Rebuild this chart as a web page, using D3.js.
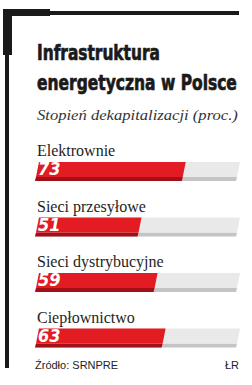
<!DOCTYPE html>
<html>
<head>
<meta charset="utf-8">
<script src="https://cdn.jsdelivr.net/npm/d3@7"></script>
<style>
  body { margin:0; background:#fff; }
  svg { display:block; }
</style>
</head>
<body>
<script>
var categories = ["Elektrownie", "Sieci przesyłowe", "Sieci dystrybucyjne", "Ciepłownictwo"];
var values = [73, 51, 59, 63];
var titleLines = ["Infrastruktura", "energetyczna w Polsce"];
var subtitle = "Stopień dekapitalizacji (proc.)";
var source = "Źródło: SRNPRE";
var author = "ŁR";

var W = 252, H = 385;
var svg = d3.select('body').append('svg')
  .attr('width', W).attr('height', H);

// frame
svg.append('rect').attr('x', 3).attr('y', 9).attr('width', 47).attr('height', 7).attr('fill', '#1a1a1a');
svg.append('rect').attr('x', 50).attr('y', 11).attr('width', 189).attr('height', 4).attr('fill', '#1a1a1a');
svg.append('rect').attr('x', 3).attr('y', 9).attr('width', 9).attr('height', 46).attr('fill', '#1a1a1a');
svg.append('rect').attr('x', 5).attr('y', 55).attr('width', 4).attr('height', 313).attr('fill', '#1a1a1a');

// squeeze a text horizontally to a target width
function fitWidth(sel, target, x0, y0) {
  sel.each(function(d, i) {
    var w = this.getComputedTextLength();
    var t = typeof target === 'function' ? target(d, i) : target;
    var yy = typeof y0 === 'function' ? y0(d, i) : y0;
    d3.select(this).attr('transform', 'translate(' + x0 + ',' + yy + ') scale(' + (t / w) + ',1)');
  });
}

// title
svg.selectAll('text.title').data(titleLines).enter().append('text')
  .attr('class', 'title')
  .style('font-family', '"Liberation Sans Narrow", "DejaVu Sans Condensed", sans-serif')
  .style('font-weight', 'bold')
  .style('font-size', '22px')
  .style('fill', '#1a1a1a')
  .style('stroke', '#1a1a1a')
  .style('stroke-width', '0.7px')
  .text(function(d) { return d; })
  .call(fitWidth, function(d, i) { return i ? 200 : 123; }, 37, function(d, i) { return 60 + i * 30; });

svg.append('text')
  .style('font-family', '"Liberation Serif", serif')
  .style('font-style', 'italic')
  .style('font-size', '15px')
  .style('fill', '#333')
  .text(subtitle)
  .call(fitWidth, 201, 37, 120);

var x = d3.scaleLinear().domain([0, 100]).range([36, 237]);
var y = d3.scaleBand().domain(categories).range([146, 368]).paddingInner(0).paddingOuter(0);

var sk = 3, hFace = 15, hDepth = 4;
function face(x0, x1, y0) {
  return 'M' + (x0 + sk) + ',' + y0 + 'L' + (x1 + sk) + ',' + y0 + 'L' + x1 + ',' + (y0 + hFace) + 'L' + x0 + ',' + (y0 + hFace) + 'Z';
}
function depth(x0, x1, y0) {
  var yb = y0 + hFace;
  return 'M' + x0 + ',' + yb + 'L' + x1 + ',' + yb + 'L' + (x1 - 1) + ',' + (yb + hDepth) + 'L' + (x0 - 1) + ',' + (yb + hDepth) + 'Z';
}

var g = svg.selectAll('g.bar').data(categories).enter().append('g').attr('class', 'bar');

g.append('text')
  .attr('x', 37)
  .attr('y', function(d) { return y(d) + 10; })
  .style('font-family', '"Liberation Serif", serif')
  .style('font-size', '16px')
  .style('fill', '#1e1e1e')
  .text(function(d) { return d; });

g.append('path').attr('d', function(d) { return depth(x(0), x(100), y(d) + 16); }).attr('fill', '#c4c4c4');
g.append('path').attr('d', function(d) { return face(x(0), x(100), y(d) + 16); }).attr('fill', '#e9e9e9');
g.append('path').attr('d', function(d, i) { return depth(x(0), x(values[i]), y(d) + 16); }).attr('fill', '#a30f17');
g.append('path').attr('d', function(d, i) { return face(x(0), x(values[i]), y(d) + 16); }).attr('fill', '#e31b23');

g.append('text')
  .attr('x', 38)
  .attr('y', function(d) { return y(d) + 16 + 13; })
  .style('font-family', '"Liberation Sans Narrow", "DejaVu Sans Condensed", sans-serif')
  .style('font-weight', 'bold')
  .style('font-style', 'italic')
  .style('font-size', '18px')
  .style('fill', '#fff')
  .text(function(d, i) { return values[i]; });

svg.append('text')
  .attr('x', 35).attr('y', 369)
  .style('font-family', '"Liberation Sans", Arial, sans-serif')
  .style('font-size', '11px')
  .style('fill', '#222')
  .text(source);

svg.append('text')
  .attr('x', 239).attr('y', 369)
  .attr('text-anchor', 'end')
  .style('font-family', '"Liberation Sans", Arial, sans-serif')
  .style('font-size', '11px')
  .style('fill', '#222')
  .text(author);
</script>
</body>
</html>
